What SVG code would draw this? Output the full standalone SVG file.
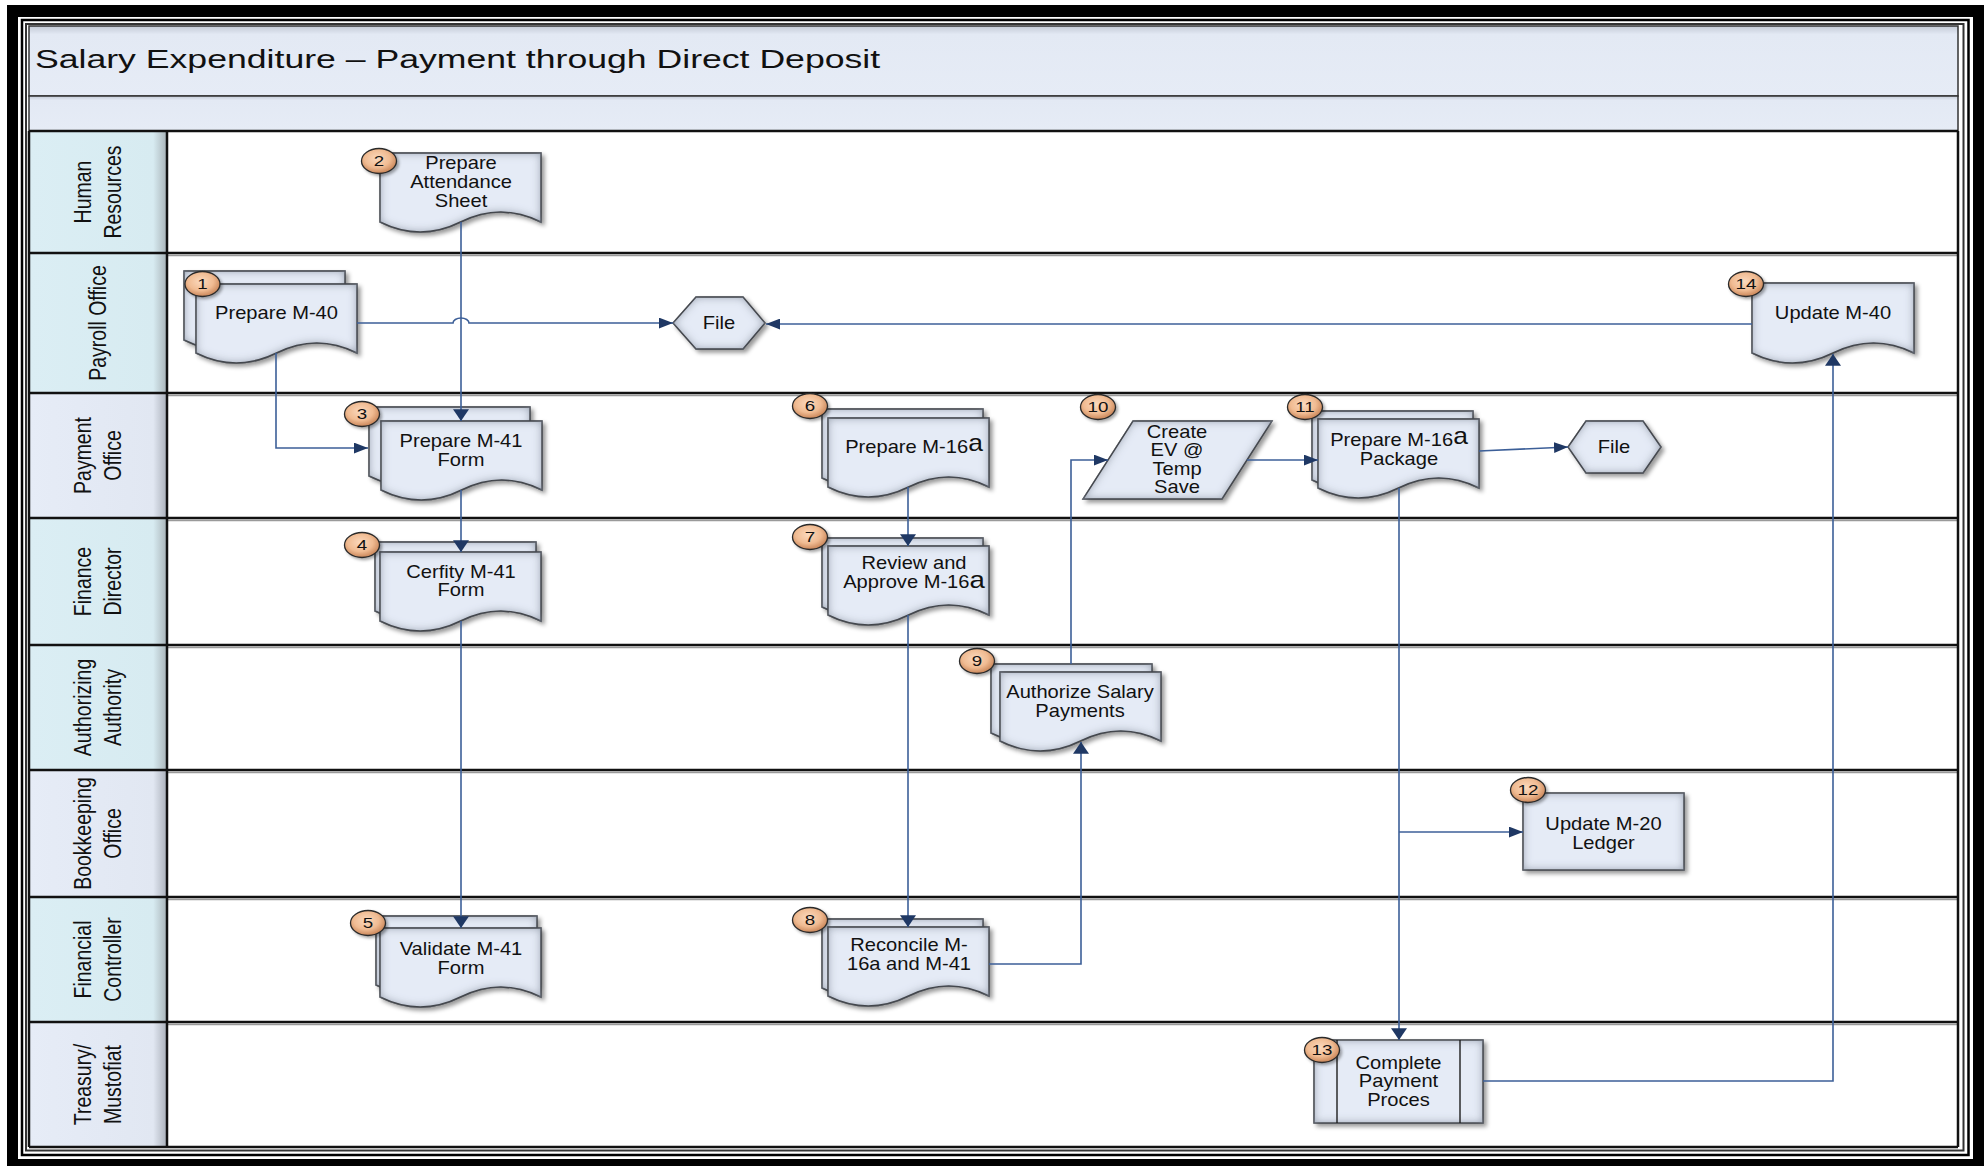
<svg xmlns="http://www.w3.org/2000/svg" width="1984" height="1166" viewBox="0 0 1984 1166">
<defs>
<style>
text{font-family:"Liberation Sans",Arial,sans-serif;fill:#111}
.nt{font-size:17.5px;text-anchor:middle}
.ht{font-size:19.5px;text-anchor:middle}
.bt{font-size:15px;text-anchor:middle}
.title{font-size:26px}
.shape{fill:#e5ebf6;stroke:#1e1e1e;stroke-width:1.4;filter:url(#sh)}
.badge{fill:url(#bg);stroke:#2a2a2a;stroke-width:1.3;filter:url(#bsh)}
.conn{fill:none;stroke:#3c5f98;stroke-width:1.6}
.lane{stroke:#111;stroke-width:2.5}
.laneS{stroke:#9a9a9a;stroke-width:1.5}
</style>
<marker id="arrV" markerUnits="userSpaceOnUse" markerWidth="12" markerHeight="16" refX="11" refY="7.5" orient="auto" viewBox="0 0 11 15">
<path d="M0,0 L11,7.5 L0,15 z" fill="#1f3864"/>
</marker>
<marker id="arrH" markerUnits="userSpaceOnUse" markerWidth="14" markerHeight="11" refX="13" refY="5" orient="auto" viewBox="0 0 13 10">
<path d="M0,0 L13,5 L0,10 z" fill="#1f3864"/>
</marker>
<radialGradient id="bg" cx="45%" cy="40%" r="60%">
<stop offset="0" stop-color="#fbd9bd"/>
<stop offset="0.6" stop-color="#f0bb92"/>
<stop offset="1" stop-color="#c98558"/>
</radialGradient>
<linearGradient id="tg" x1="0" y1="0" x2="0" y2="1">
<stop offset="0" stop-color="#c3cad6"/>
<stop offset="0.12" stop-color="#e3e9f4"/>
<stop offset="1" stop-color="#e6ecf6"/>
</linearGradient>
<linearGradient id="hTeal" x1="0" y1="0" x2="1" y2="0">
<stop offset="0" stop-color="#dbeef4"/>
<stop offset="0.9" stop-color="#d7ebf1"/>
<stop offset="1" stop-color="#a8b3b8"/>
</linearGradient>
<linearGradient id="hLav" x1="0" y1="0" x2="1" y2="0">
<stop offset="0" stop-color="#e6ecf7"/>
<stop offset="0.9" stop-color="#e1e7f2"/>
<stop offset="1" stop-color="#aab0ba"/>
</linearGradient>
<filter id="sh" x="-10%" y="-10%" width="125%" height="130%" color-interpolation-filters="sRGB">
<feGaussianBlur in="SourceAlpha" stdDeviation="2" result="blur"/>
<feOffset in="blur" dx="3" dy="3" result="off"/>
<feFlood flood-color="#000" flood-opacity="0.4"/>
<feComposite in2="off" operator="in" result="drop"/>
<feGaussianBlur in="SourceAlpha" stdDeviation="5" result="ib"/>
<feComposite in="SourceAlpha" in2="ib" operator="out" result="edge"/>
<feFlood flood-color="#7f8897" flood-opacity="0.9"/>
<feComposite in2="edge" operator="in" result="inner"/>
<feMerge><feMergeNode in="drop"/><feMergeNode in="SourceGraphic"/><feMergeNode in="inner"/></feMerge>
</filter>
<filter id="bsh" x="-20%" y="-20%" width="150%" height="160%">
<feGaussianBlur in="SourceAlpha" stdDeviation="1.5" result="b"/>
<feOffset in="b" dx="2" dy="2" result="o"/>
<feFlood flood-color="#000" flood-opacity="0.35"/>
<feComposite in2="o" operator="in" result="d"/>
<feMerge><feMergeNode in="d"/><feMergeNode in="SourceGraphic"/></feMerge>
</filter>
</defs>

<g id="frame">
<rect x="7" y="5" width="1977" height="1161" fill="#000"/>
<rect x="18" y="17" width="1955" height="1142" fill="#fff"/>
<rect x="22" y="20" width="1946.5" height="1135" fill="none" stroke="#000" stroke-width="2.5"/>
<rect x="26" y="24" width="1937.5" height="1126.5" fill="#fff" stroke="#333" stroke-width="2"/>
</g>

<g id="title">
<rect x="29" y="26" width="1929" height="70" fill="url(#tg)" stroke="#333" stroke-width="1.5"/>
<rect x="29" y="96" width="1929" height="35" fill="url(#tg)" stroke="#333" stroke-width="1.5"/>
<text class="title" transform="translate(35,68) scale(1.37,1)">Salary Expenditure – Payment through Direct Deposit</text>
</g>

<g id="lanes">
<rect x="167" y="131" width="1791" height="1016" fill="#fff"/>
<rect x="29" y="131" width="138" height="122" fill="url(#hTeal)"/>
<rect x="29" y="253" width="138" height="140" fill="url(#hTeal)"/>
<rect x="29" y="393" width="138" height="125" fill="url(#hLav)"/>
<rect x="29" y="518" width="138" height="127" fill="url(#hTeal)"/>
<rect x="29" y="645" width="138" height="125" fill="url(#hTeal)"/>
<rect x="29" y="770" width="138" height="127" fill="url(#hLav)"/>
<rect x="29" y="897" width="138" height="125" fill="url(#hTeal)"/>
<rect x="29" y="1022" width="138" height="125" fill="url(#hLav)"/>
<g class="laneS">
<line x1="167" y1="255.5" x2="1958" y2="255.5"/>
<line x1="167" y1="395.5" x2="1958" y2="395.5"/>
<line x1="167" y1="520.5" x2="1958" y2="520.5"/>
<line x1="167" y1="647.5" x2="1958" y2="647.5"/>
<line x1="167" y1="772.5" x2="1958" y2="772.5"/>
<line x1="167" y1="899.5" x2="1958" y2="899.5"/>
<line x1="167" y1="1024.5" x2="1958" y2="1024.5"/>
</g>
<g class="lane">
<line x1="29" y1="131" x2="1958" y2="131"/>
<line x1="29" y1="253" x2="1958" y2="253"/>
<line x1="29" y1="393" x2="1958" y2="393"/>
<line x1="29" y1="518" x2="1958" y2="518"/>
<line x1="29" y1="645" x2="1958" y2="645"/>
<line x1="29" y1="770" x2="1958" y2="770"/>
<line x1="29" y1="897" x2="1958" y2="897"/>
<line x1="29" y1="1022" x2="1958" y2="1022"/>
<line x1="29" y1="1147" x2="1958" y2="1147"/>
<line x1="167" y1="131" x2="167" y2="1147"/>
<line x1="29" y1="131" x2="29" y2="1147"/>
<line x1="1958" y1="131" x2="1958" y2="1147"/>
</g>
<text class="ht" transform="translate(91,192) scale(1.27,1) rotate(-90)"><tspan x="0" y="0">Human</tspan><tspan x="0" dy="23.6">Resources</tspan></text>
<text class="ht" transform="translate(106,323) scale(1.27,1) rotate(-90)">Payroll Office</text>
<text class="ht" transform="translate(91,455.5) scale(1.27,1) rotate(-90)"><tspan x="0" y="0">Payment</tspan><tspan x="0" dy="23.6">Office</tspan></text>
<text class="ht" transform="translate(91,581.5) scale(1.27,1) rotate(-90)"><tspan x="0" y="0">Finance</tspan><tspan x="0" dy="23.6">Director</tspan></text>
<text class="ht" transform="translate(91,707.5) scale(1.27,1) rotate(-90)"><tspan x="0" y="0">Authorizing</tspan><tspan x="0" dy="23.6">Authority</tspan></text>
<text class="ht" transform="translate(91,833.5) scale(1.27,1) rotate(-90)"><tspan x="0" y="0">Bookkeeping</tspan><tspan x="0" dy="23.6">Office</tspan></text>
<text class="ht" transform="translate(91,959.5) scale(1.27,1) rotate(-90)"><tspan x="0" y="0">Financial</tspan><tspan x="0" dy="23.6">Controller</tspan></text>
<text class="ht" transform="translate(91,1084.5) scale(1.27,1) rotate(-90)"><tspan x="0" y="0">Treasury/</tspan><tspan x="0" dy="23.6">Mustofiat</tspan></text>
</g>

<g id="node1">
<path class="shape" d="M184,271 H345 V340 Q304.75,320 264.5,340 T184,340 Z"/>
<path class="shape" d="M196,284 H357 V353 Q316.75,333 276.5,353 T196,353 Z"/>
<ellipse class="badge" cx="202.5" cy="284" rx="17.5" ry="12.5"/>
<text class="bt" transform="translate(202.5,289.4) scale(1.25,1)">1</text>
<text class="nt" transform="translate(276.5,319) scale(1.15,1)">Prepare M-40</text>
</g>

<g id="node2">
<path class="shape" d="M380,153 H541 V222 Q500.75,202 460.5,222 T380,222 Z"/>
<ellipse class="badge" cx="379" cy="161" rx="17.5" ry="12.5"/>
<text class="bt" transform="translate(379,166.4) scale(1.25,1)">2</text>
<text class="nt" transform="translate(461,169) scale(1.15,1)"><tspan x="0" y="0">Prepare</tspan><tspan x="0" dy="19">Attendance</tspan><tspan x="0" dy="19">Sheet</tspan></text>
</g>

<g id="node3">
<path class="shape" d="M369,407 H530 V476 Q489.75,456 449.5,476 T369,476 Z"/>
<path class="shape" d="M381,421 H542 V490 Q501.75,470 461.5,490 T381,490 Z"/>
<ellipse class="badge" cx="362" cy="414" rx="17.5" ry="12.5"/>
<text class="bt" transform="translate(362,419.4) scale(1.25,1)">3</text>
<text class="nt" transform="translate(461,447) scale(1.15,1)"><tspan x="0" y="0">Prepare M-41</tspan><tspan x="0" dy="19">Form</tspan></text>
</g>

<g id="node4">
<path class="shape" d="M375,542 H536 V611 Q495.75,591 455.5,611 T375,611 Z"/>
<path class="shape" d="M380,552 H541 V621 Q500.75,601 460.5,621 T380,621 Z"/>
<ellipse class="badge" cx="362" cy="545" rx="17.5" ry="12.5"/>
<text class="bt" transform="translate(362,550.4) scale(1.25,1)">4</text>
<text class="nt" transform="translate(461,578) scale(1.15,1)"><tspan x="0" y="0">Cerfity M-41</tspan><tspan x="0" dy="18.5">Form</tspan></text>
</g>

<g id="node5">
<path class="shape" d="M376,916 H537 V985 Q496.75,965 456.5,985 T376,985 Z"/>
<path class="shape" d="M380,928 H541 V997 Q500.75,977 460.5,997 T380,997 Z"/>
<ellipse class="badge" cx="368" cy="923" rx="17.5" ry="12.5"/>
<text class="bt" transform="translate(368,928.4) scale(1.25,1)">5</text>
<text class="nt" transform="translate(461,955) scale(1.15,1)"><tspan x="0" y="0">Validate M-41</tspan><tspan x="0" dy="19">Form</tspan></text>
</g>

<g id="node6">
<path class="shape" d="M822,409 H983 V478 Q942.75,458 902.5,478 T822,478 Z"/>
<path class="shape" d="M828,418 H989 V487 Q948.75,467 908.5,487 T828,487 Z"/>
<ellipse class="badge" cx="810" cy="406" rx="17.5" ry="12.5"/>
<text class="bt" transform="translate(810,411.4) scale(1.25,1)">6</text>
<text class="nt" transform="translate(914,453) scale(1.15,1)">Prepare M-16<tspan font-size="23" dy="-2">a</tspan></text>
</g>

<g id="node7">
<path class="shape" d="M822,538 H983 V607 Q942.75,587 902.5,607 T822,607 Z"/>
<path class="shape" d="M828,546 H989 V615 Q948.75,595 908.5,615 T828,615 Z"/>
<ellipse class="badge" cx="810" cy="537" rx="17.5" ry="12.5"/>
<text class="bt" transform="translate(810,542.4) scale(1.25,1)">7</text>
<text class="nt" transform="translate(914,569) scale(1.15,1)"><tspan x="0" y="0">Review and</tspan><tspan x="0" dy="19">Approve M-16<tspan font-size="24">a</tspan></tspan></text>
</g>

<g id="node8">
<path class="shape" d="M822,919 H983 V988 Q942.75,968 902.5,988 T822,988 Z"/>
<path class="shape" d="M828,927 H989 V996 Q948.75,976 908.5,996 T828,996 Z"/>
<ellipse class="badge" cx="810" cy="920" rx="17.5" ry="12.5"/>
<text class="bt" transform="translate(810,925.4) scale(1.25,1)">8</text>
<text class="nt" transform="translate(909,951) scale(1.15,1)"><tspan x="0" y="0">Reconcile M-</tspan><tspan x="0" dy="19">16a and M-41</tspan></text>
</g>

<g id="node9">
<path class="shape" d="M991,664 H1152 V733 Q1111.75,713 1071.5,733 T991,733 Z"/>
<path class="shape" d="M1000,672 H1161 V741 Q1120.75,721 1080.5,741 T1000,741 Z"/>
<ellipse class="badge" cx="977" cy="661" rx="17.5" ry="12.5"/>
<text class="bt" transform="translate(977,666.4) scale(1.25,1)">9</text>
<text class="nt" transform="translate(1080,698) scale(1.15,1)"><tspan x="0" y="0">Authorize Salary</tspan><tspan x="0" dy="19">Payments</tspan></text>
</g>

<g id="node10">
<polygon class="shape" points="1133,421 1272,421 1222,499 1083,499"/>
<ellipse class="badge" cx="1098" cy="407" rx="17.5" ry="12.5"/>
<text class="bt" transform="translate(1098,412.4) scale(1.25,1)">10</text>
<text class="nt" transform="translate(1177,438) scale(1.15,1)"><tspan x="0" y="0">Create</tspan><tspan x="0" dy="18.5">EV @</tspan><tspan x="0" dy="18.5">Temp</tspan><tspan x="0" dy="18.5">Save</tspan></text>
</g>

<g id="node11">
<path class="shape" d="M1312,411 H1473 V480 Q1432.75,460 1392.5,480 T1312,480 Z"/>
<path class="shape" d="M1318,419 H1479 V488 Q1438.75,468 1398.5,488 T1318,488 Z"/>
<ellipse class="badge" cx="1305" cy="407" rx="17.5" ry="12.5"/>
<text class="bt" transform="translate(1305,412.4) scale(1.25,1)">11</text>
<text class="nt" transform="translate(1399,446) scale(1.15,1)"><tspan x="0" y="0">Prepare M-16<tspan font-size="23" dy="-2">a</tspan></tspan><tspan x="0" dy="21">Package</tspan></text>
</g>

<g id="node12">
<rect class="shape" x="1523" y="793" width="161" height="77"/>
<ellipse class="badge" cx="1528" cy="790" rx="17.5" ry="12.5"/>
<text class="bt" transform="translate(1528,795.4) scale(1.25,1)">12</text>
<text class="nt" transform="translate(1603.5,830) scale(1.15,1)"><tspan x="0" y="0">Update M-20</tspan><tspan x="0" dy="19">Ledger</tspan></text>
</g>

<g id="node13">
<rect class="shape" x="1314" y="1040" width="169" height="83"/>
<line x1="1337" y1="1040" x2="1337" y2="1123" stroke="#1e1e1e" stroke-width="1.4"/>
<line x1="1460" y1="1040" x2="1460" y2="1123" stroke="#1e1e1e" stroke-width="1.4"/>
<ellipse class="badge" cx="1322" cy="1050" rx="17.5" ry="12.5"/>
<text class="bt" transform="translate(1322,1055.4) scale(1.25,1)">13</text>
<text class="nt" transform="translate(1398.5,1069) scale(1.15,1)"><tspan x="0" y="0">Complete</tspan><tspan x="0" dy="18.5">Payment</tspan><tspan x="0" dy="18.5">Proces</tspan></text>
</g>

<g id="node14">
<path class="shape" d="M1752,283 H1914 V353 Q1873.5,333 1833,353 T1752,353 Z"/>
<ellipse class="badge" cx="1746" cy="284" rx="17.5" ry="12.5"/>
<text class="bt" transform="translate(1746,289.4) scale(1.25,1)">14</text>
<text class="nt" transform="translate(1833,319) scale(1.15,1)">Update M-40</text>
</g>

<g id="file1">
<polygon class="shape" points="673,323 696,297 743,297 765,323 743,349 696,349"/>
<text class="nt" transform="translate(719,329) scale(1.15,1)">File</text>
</g>

<g id="file2">
<polygon class="shape" points="1568,447 1586,421 1643,421 1661,447 1643,473 1586,473"/>
<text class="nt" transform="translate(1614,453) scale(1.15,1)">File</text>
</g>

<g id="connectors">
<path class="conn" d="M276,353 V448 H368" marker-end="url(#arrH)"/>
<path class="conn" d="M357,323 H453 A8,5 0 0 1 469,323 H673" marker-end="url(#arrH)"/>
<path class="conn" d="M461,222 V421" marker-end="url(#arrV)"/>
<path class="conn" d="M461,490 V552" marker-end="url(#arrV)"/>
<path class="conn" d="M461,621 V928" marker-end="url(#arrV)"/>
<path class="conn" d="M908,487 V546" marker-end="url(#arrV)"/>
<path class="conn" d="M908,615 V927" marker-end="url(#arrV)"/>
<path class="conn" d="M989,964 H1081 V742" marker-end="url(#arrV)"/>
<path class="conn" d="M1071,664 V460 H1108" marker-end="url(#arrH)"/>
<path class="conn" d="M1247,460 H1318" marker-end="url(#arrH)"/>
<path class="conn" d="M1479,451 L1568,447" marker-end="url(#arrH)"/>
<path class="conn" d="M1399,488 V1040" marker-end="url(#arrV)"/>
<path class="conn" d="M1399,832 H1523" marker-end="url(#arrH)"/>
<path class="conn" d="M1483,1081 H1833 V354" marker-end="url(#arrV)"/>
<path class="conn" d="M1752,324 H766" marker-end="url(#arrH)"/>
</g>
</svg>
